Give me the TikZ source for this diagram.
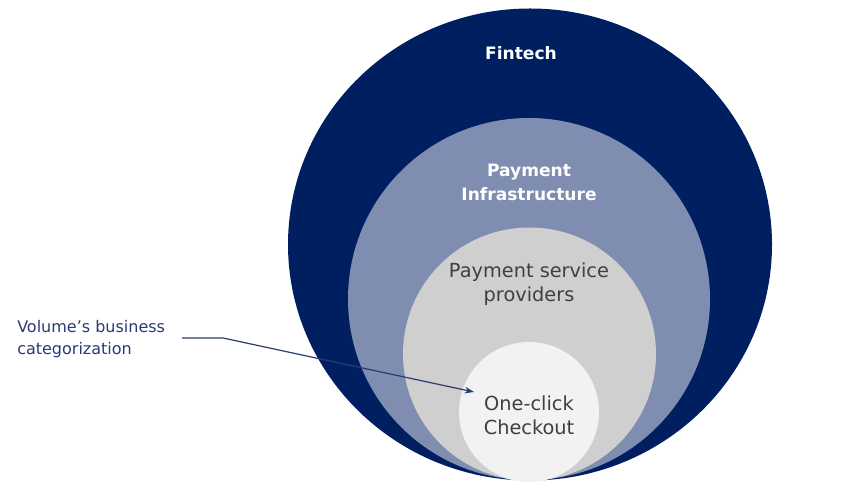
\documentclass[tikz,border=0pt]{standalone}
\usepackage{fontspec}
\setmainfont{DejaVu Sans}
\usetikzlibrary{arrows.meta}

\definecolor{fintechblue}{RGB}{0,31,96}
\definecolor{infrablue}{RGB}{127,141,176}
\definecolor{pspgray}{RGB}{208,207,208}
\definecolor{ocgray}{RGB}{242,242,242}
\definecolor{textgray}{RGB}{64,64,64}
\definecolor{labelblue}{RGB}{43,58,117}

\tikzset{
  whitetext/.style={text=white, font=\fontsize{12.8}{18}\selectfont\bfseries, align=center},
  graytext/.style={text=textgray, font=\fontsize{14.5}{18}\selectfont, align=center},
}

\begin{document}
\begin{tikzpicture}[x=0.75pt,y=0.75pt,yscale=-1,xscale=1]
\path[use as bounding box] (0,0) rectangle (849,491);

%Shape: Ellipse [id:fintech]
\fill [fintechblue] (530,244.5) ellipse [x radius=242, y radius=236];
%Shape: Circle [id:infra]
\fill [infrablue] (529,299) circle [radius=181];
%Shape: Circle [id:psp]
\fill [pspgray] (529.5,354) circle [radius=126.5];
%Shape: Circle [id:oneclick]
\fill [ocgray] (529,412) circle [radius=70];

% Text Node
\draw (521,53) node (fintech) [whitetext] {Fintech};
% Text Node
\draw (529,182) node (infra) [whitetext] {Payment\\Infrastructure};
% Text Node
\draw (529,284.5) node (psp) [graytext] {Payment service\\providers};
% Text Node
\draw (529,415) node (oneclick) [graytext] {One-click\\Checkout};
% Text Node
\draw (17,339) node (volume) [anchor=west, inner sep=0pt, text=labelblue, align=left, font=\fontsize{12}{16.5}\selectfont] {Volume’s business\\categorization};

%Straight Lines [id:arrow]
\coordinate (bend) at (223,338);
\coordinate (tip) at (474,392);
\draw [labelblue, line width=0.9pt, -{Stealth[length=7pt, width=5pt]}] (182,338) -- (bend) -- (tip);

\end{tikzpicture}
\end{document}
